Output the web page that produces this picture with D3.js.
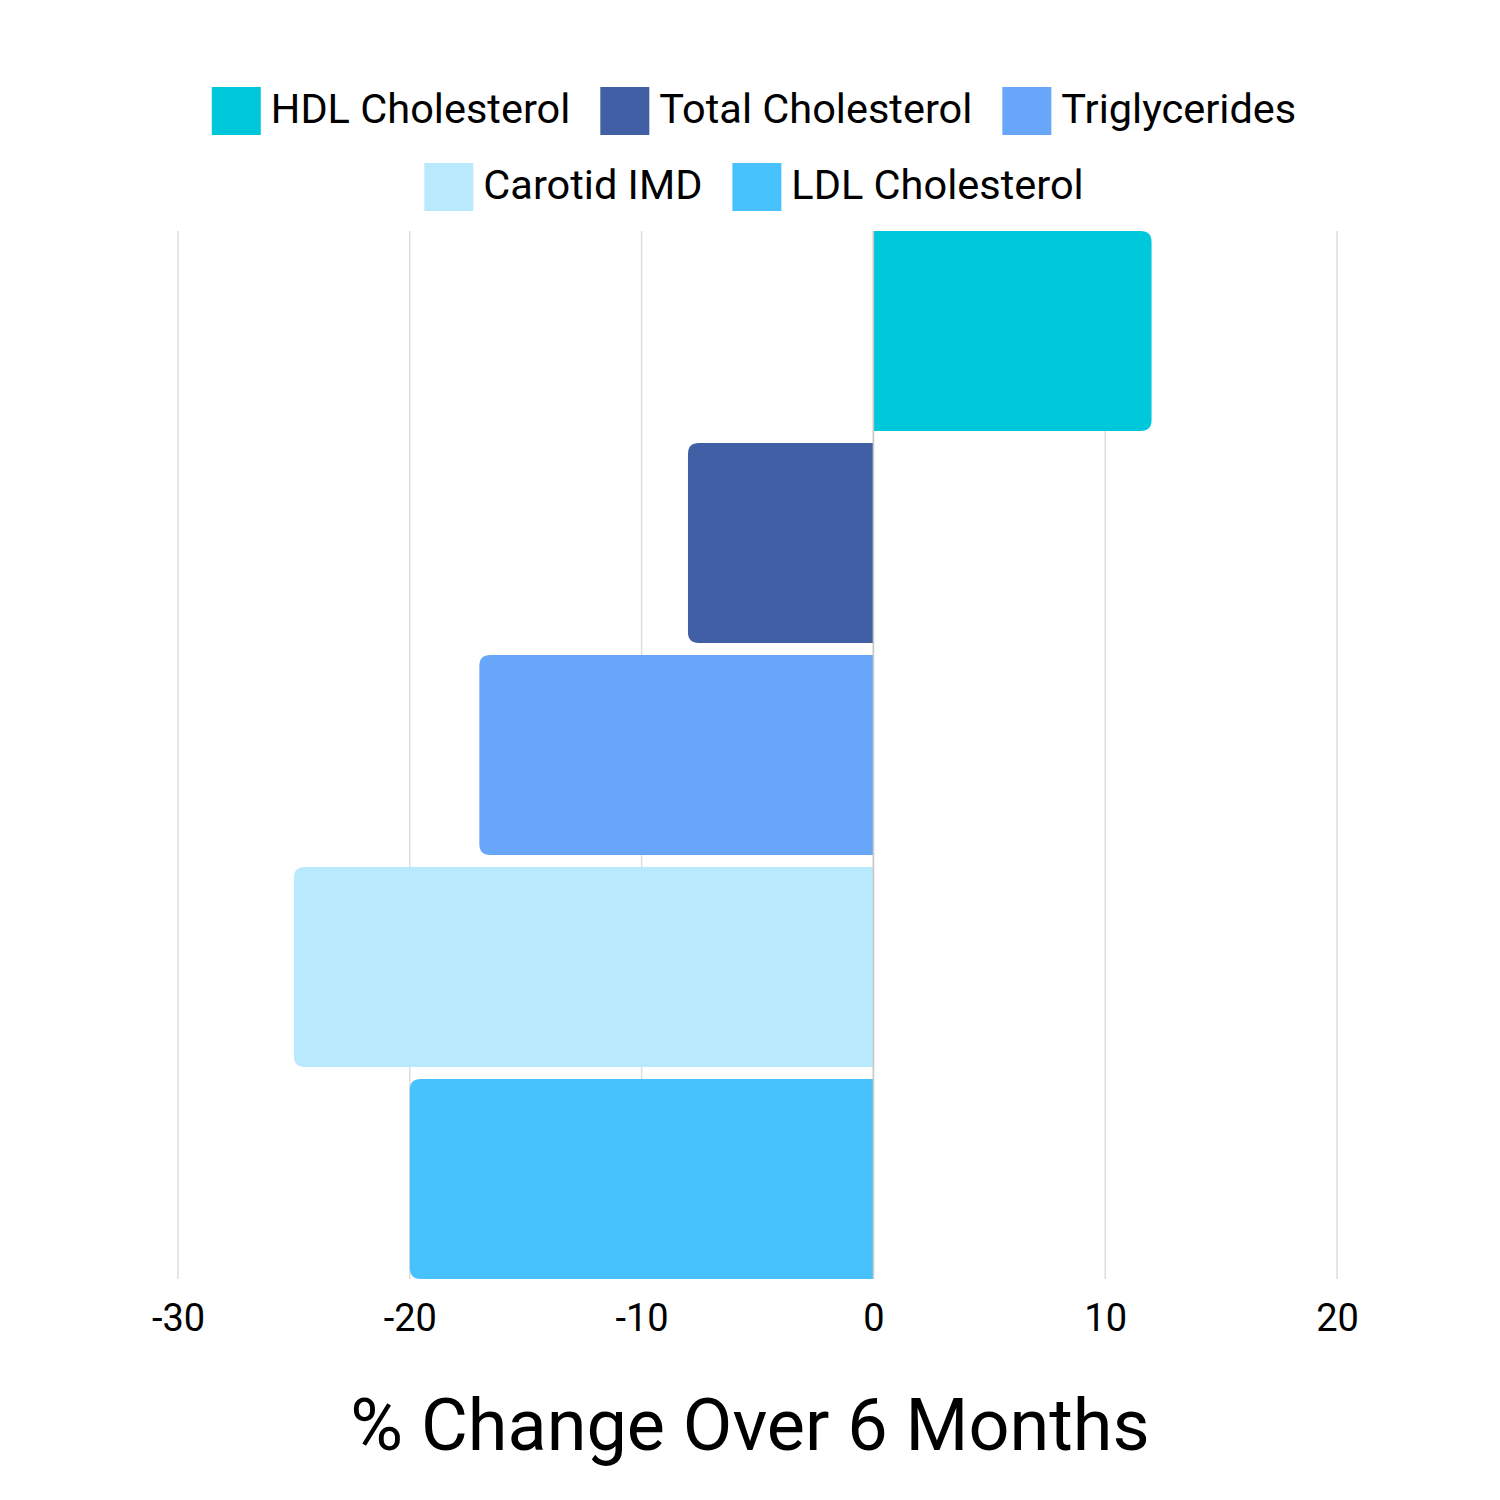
<!DOCTYPE html>
<html>
<head>
<meta charset="utf-8">
<script src="https://cdn.jsdelivr.net/npm/d3@7"></script>
<style>
  body { margin: 0; background: #fff; }
  text { font-family: Roboto, "Noto Sans", sans-serif; }
</style>
</head>
<body>
<div id="chart"></div>
<script>
var w = 1500;
var h = 1500;

var categories = ["HDL Cholesterol", "Total Cholesterol", "Triglycerides", "Carotid IMD", "LDL Cholesterol"];
var values = [12, -8, -17, -25, -20];
var colors = ["#00c8db", "#415fa5", "#67a6f9", "#b9e9fd", "#48c2fd"];
var ticks = [-30, -20, -10, 0, 10, 20];
var title = "% Change Over 6 Months";

var svg = d3.select("#chart").append("svg")
            .attr("width", w)
            .attr("height", h);

var x = d3.scaleLinear().domain([-30, 20]).range([178, 1337]);
var y = d3.scaleBand().domain(categories).range([231, 1279]).paddingInner(0.0566).paddingOuter(0);

// gridlines
svg.selectAll("line.grid")
   .data(ticks)
   .enter()
   .append("line")
   .attr("class", "grid")
   .attr("x1", function(d) { return x(d); })
   .attr("x2", function(d) { return x(d); })
   .attr("y1", 231)
   .attr("y2", 1279)
   .attr("stroke", "#dddddd")
   .attr("stroke-width", 1.5);

// bars rounded only at the outer end
var r = 11;
function barPath(d, i) {
  var y0 = y(categories[i]), y1 = y0 + y.bandwidth();
  var x0 = x(0), x1 = x(d);
  var s = x1 > x0 ? 1 : -1;
  return "M" + x0 + "," + y0 +
         "L" + (x1 - s * r) + "," + y0 +
         "Q" + x1 + "," + y0 + " " + x1 + "," + (y0 + r) +
         "L" + x1 + "," + (y1 - r) +
         "Q" + x1 + "," + y1 + " " + (x1 - s * r) + "," + y1 +
         "L" + x0 + "," + y1 + "Z";
}

svg.selectAll("path.bar")
   .data(values)
   .enter()
   .append("path")
   .attr("class", "bar")
   .attr("d", barPath)
   .attr("fill", function(d, i) { return colors[i]; });

// zero line
svg.append("line")
   .attr("x1", x(0)).attr("x2", x(0))
   .attr("y1", 231).attr("y2", 1279)
   .attr("stroke", "#c8c8c8")
   .attr("stroke-width", 1.5);

// x axis
var axis = svg.append("g")
   .attr("transform", "translate(0,1279)")
   .call(d3.axisBottom(x).tickValues(ticks).tickSize(0).tickPadding(25)
           .tickFormat(function(d) { return String(d); }));
axis.select(".domain").remove();
axis.selectAll("text")
    .style("font-size", "38px")
    .attr("fill", "#000")
    .style("font-family", "Roboto");

svg.append("text")
   .attr("x", 750)
   .attr("y", 1450)
   .attr("text-anchor", "middle")
   .style("font-size", "72px")
   .attr("fill", "#000")
   .text(title);

// legend, two centered rows
var rows = [[0, 1, 2], [3, 4]];
var rowY = [87, 163];
rows.forEach(function(row, ri) {
  var g = svg.append("g");
  var cx = 0;
  row.forEach(function(ci) {
    var item = g.append("g").attr("transform", "translate(" + cx + ",0)");
    item.append("rect")
        .attr("width", 49)
        .attr("height", 48)
        .attr("fill", colors[ci]);
    var t = item.append("text")
        .attr("x", 59)
        .attr("y", 36)
        .style("font-size", "41.5px")
        .attr("fill", "#000")
        .text(categories[ci]);
    cx += 59 + t.node().getComputedTextLength() + 30;
  });
  var total = cx - 30;
  g.attr("transform", "translate(" + (754 - total / 2) + "," + rowY[ri] + ")");
});
</script>
</body>
</html>
